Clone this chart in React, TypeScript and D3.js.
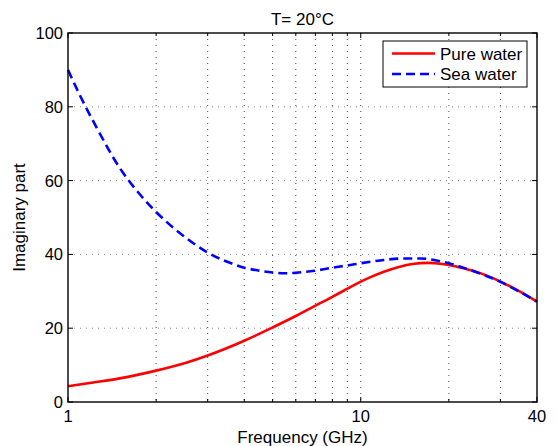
import React from "react";
import * as d3 from "d3";

const freqPure = [1, 1.25, 1.5, 2, 2.5, 3, 4, 5, 6, 7, 8, 9, 10, 11, 12, 13.5, 15, 17, 19, 21, 23, 25, 28, 31, 35, 40];
const imagPure = [4.3, 5.4, 6.4, 8.5, 10.5, 12.6, 16.6, 20.2, 23.3, 26.1, 28.5, 30.7, 32.6, 34.1, 35.3, 36.6, 37.4, 37.7, 37.4, 36.8, 36.0, 35.2, 33.7, 32.1, 29.9, 27.2];

const freqSea = [1, 1.1, 1.25, 1.5, 1.75, 2, 2.5, 3, 3.5, 4, 4.5, 5, 5.5, 6, 6.5, 7, 8, 9, 10, 11, 12, 14, 16, 18, 20, 22, 25, 28, 31, 35, 40];
const imagSea = [90, 83, 74.5, 63.5, 56.5, 51.5, 44.8, 40.5, 38.0, 36.4, 35.6, 35.1, 34.9, 35.0, 35.3, 35.6, 36.4, 37.0, 37.6, 38.1, 38.5, 38.9, 38.9, 38.4, 37.6, 36.6, 35.1, 33.6, 32.0, 29.8, 27.2];

const seriesNames = ["Pure water", "Sea water"];
const seriesColors = ["#ff0000", "#0000ff"];
const yTicks = [0, 20, 40, 60, 80, 100];
const yGrid = [20, 40, 60, 80];
const xLabelTicks = [1, 10, 40];
const xMinorTicks = [2, 3, 4, 5, 6, 7, 8, 9, 20, 30];
const xGrid = [2, 3, 4, 5, 6, 7, 8, 9, 10, 20, 30];
const titleText = "T= 20°C";
const xTitle = "Frequency (GHz)";
const yTitle = "Imaginary part";

const W = 556, H = 446;
const L = 68, R = 537, T = 33, B = 402;
const FONT = "'Liberation Sans', Arial, Helvetica, sans-serif";

export default function App() {
  const x = d3.scaleLog().domain([1, 40]).range([L, R]);
  const y = d3.scaleLinear().domain([0, 100]).range([B, T]);
  const line = d3
    .line<[number, number]>()
    .x((d) => x(d[0]))
    .y((d) => y(d[1]))
    .curve(d3.curveMonotoneX);
  const pure = line(freqPure.map((f, i) => [f, imagPure[i]] as [number, number])) || "";
  const sea = line(freqSea.map((f, i) => [f, imagSea[i]] as [number, number])) || "";

  const lx = 383, ly = 41, lw = 144, lh = 46;

  return (
    <svg
      width={W}
      height={H}
      style={{ position: "absolute", left: 0, top: 0, background: "#fff" }}
      fontFamily={FONT}
    >
      <rect x={0} y={0} width={W} height={H} fill="#fff" />
      {/* grid */}
      {yGrid.map((v) => (
        <line key={"yg" + v} x1={L} x2={R} y1={y(v)} y2={y(v)} stroke="#8a8a8a" strokeWidth={1} strokeDasharray="1,5" />
      ))}
      {xGrid.map((v) => (
        <line key={"xg" + v} x1={x(v)} x2={x(v)} y1={T} y2={B} stroke="#444" strokeWidth={1} strokeDasharray="1,5" />
      ))}
      {/* ticks */}
      {yTicks.map((v) => (
        <g key={"yt" + v}>
          <line x1={L} x2={L + 5} y1={y(v)} y2={y(v)} stroke="#000" />
          <line x1={R} x2={R - 5} y1={y(v)} y2={y(v)} stroke="#000" />
          <text x={L - 5} y={y(v)} dy="0.36em" textAnchor="end" fontSize={16.5}>
            {v}
          </text>
        </g>
      ))}
      {xMinorTicks.map((v) => (
        <g key={"xm" + v}>
          <line x1={x(v)} x2={x(v)} y1={B} y2={B - 3} stroke="#000" />
          <line x1={x(v)} x2={x(v)} y1={T} y2={T + 3} stroke="#000" />
        </g>
      ))}
      {xLabelTicks.map((v) => (
        <g key={"xt" + v}>
          <line x1={x(v)} x2={x(v)} y1={B} y2={B - 5} stroke="#000" />
          <line x1={x(v)} x2={x(v)} y1={T} y2={T + 5} stroke="#000" />
          <text x={x(v)} y={421.5} textAnchor="middle" fontSize={16.5}>
            {v}
          </text>
        </g>
      ))}
      {/* curves */}
      <path d={pure} fill="none" stroke={seriesColors[0]} strokeWidth={2.6} />
      <path d={sea} fill="none" stroke={seriesColors[1]} strokeWidth={2.6} strokeDasharray="9,5" />
      {/* box */}
      <rect x={L} y={T} width={R - L} height={B - T} fill="none" stroke="#000" strokeWidth={1.4} />
      {/* titles */}
      <text x={(L + R) / 2} y={25} textAnchor="middle" fontSize={17}>
        {titleText}
      </text>
      <text x={(L + R) / 2} y={443} textAnchor="middle" fontSize={17}>
        {xTitle}
      </text>
      <text transform={`translate(25,${(T + B) / 2}) rotate(-90)`} textAnchor="middle" fontSize={17}>
        {yTitle}
      </text>
      {/* legend */}
      <rect x={lx} y={ly} width={lw} height={lh} fill="#fff" stroke="#000" strokeWidth={1} />
      {seriesNames.map((n, i) => (
        <g key={n}>
          <line
            x1={392}
            x2={435}
            y1={53.5 + i * 20.5}
            y2={53.5 + i * 20.5}
            stroke={seriesColors[i]}
            strokeWidth={2.6}
            strokeDasharray={i === 1 ? "9,5" : undefined}
          />
          <text x={440} y={59.5 + i * 20.5} fontSize={17}>
            {n}
          </text>
        </g>
      ))}
    </svg>
  );
}
